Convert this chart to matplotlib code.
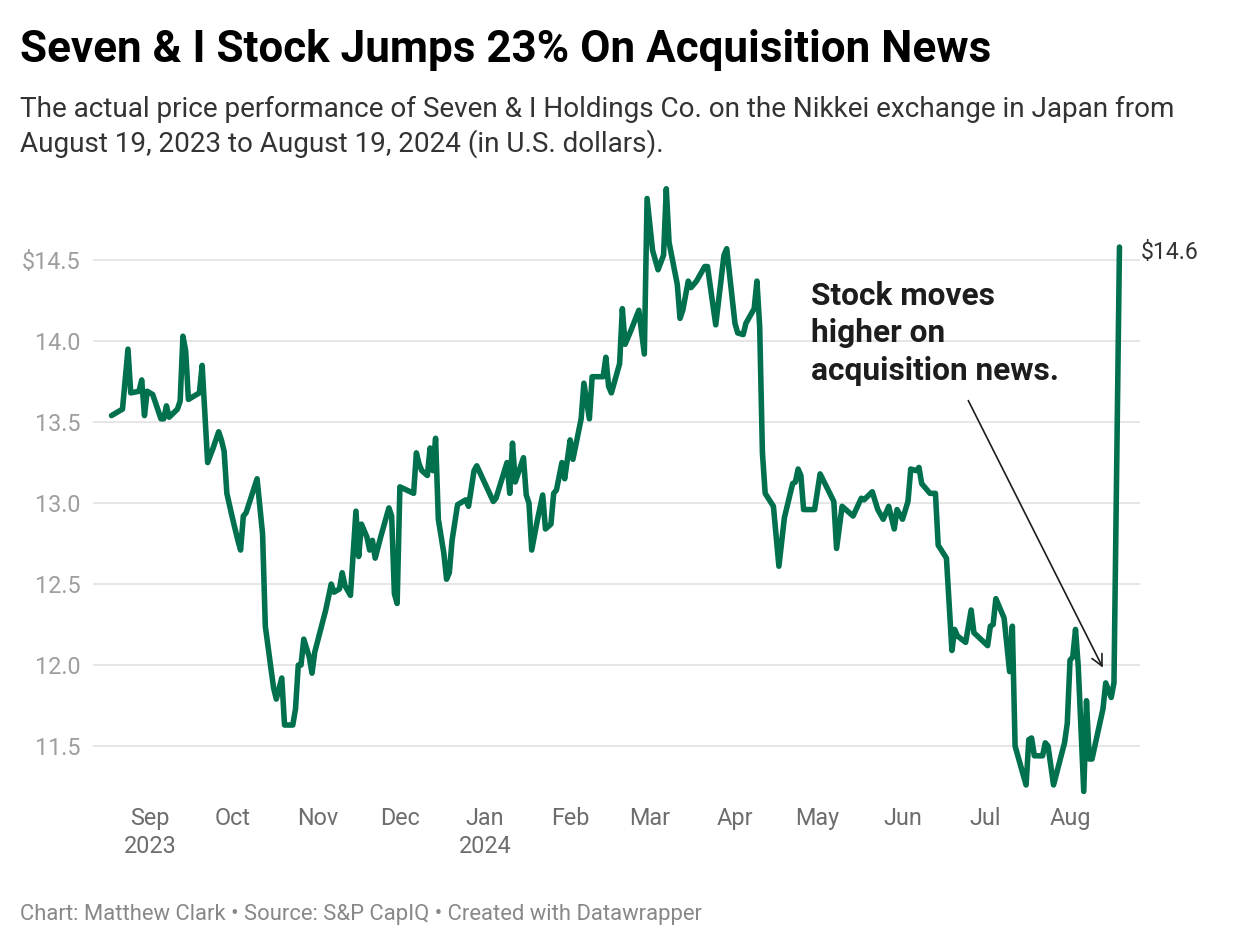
import datetime as dt
import matplotlib
matplotlib.use("Agg")
import matplotlib.pyplot as plt
import matplotlib.dates as mdates

# data: trading days counted from Aug 18, 2023, price in USD
start = dt.date(2023, 8, 18)
days = [0, 4, 6, 7, 10, 11, 12, 13, 15, 18, 19, 20, 21, 24, 25, 26, 27, 28, 32, 33,
        35, 37, 39, 40, 41, 42, 44, 46, 47, 48, 49, 53, 55, 56, 59, 60, 62, 63, 66, 67,
        68, 69, 70, 72, 73, 74, 76, 78, 80, 81, 83, 84, 85, 87, 89, 90, 91, 93, 94, 95,
        96, 98, 101, 102, 103, 104, 105, 110, 111, 112, 113, 115, 116, 117, 118, 119, 121, 122, 123, 124,
        126, 129, 130, 132, 133, 139, 140, 144, 145, 146, 147, 150, 151, 152, 153, 155, 157, 158, 160, 161,
        162, 164, 165, 167, 168, 171, 172, 174, 175, 179, 180, 181, 182, 185, 186, 187, 189, 192, 194, 195,
        197, 199, 201, 202, 203, 206, 207, 208, 210, 211, 213, 216, 217, 220, 223, 224, 227, 228, 230, 231,
        234, 235, 236, 237, 238, 241, 243, 245, 248, 249, 250, 251, 252, 256, 258, 263, 264, 266, 270, 273,
        274, 277, 279, 281, 283, 285, 286, 288, 290, 291, 293, 294, 295, 298, 300, 301, 304, 306, 307, 308,
        311, 313, 314, 319, 320, 321, 322, 325, 327, 328, 329, 333, 334, 335, 336, 339, 340, 341, 343, 347,
        348, 349, 350, 351, 352, 354, 355, 356, 357, 361, 362, 364, 365, 367]
prices = [13.54, 13.58, 13.95, 13.68, 13.69, 13.76, 13.54, 13.69, 13.67, 13.52, 13.52, 13.60, 13.53, 13.58, 13.63, 14.03, 13.94, 13.64, 13.68, 13.85,
          13.25, 13.34, 13.44, 13.39, 13.32, 13.06, 12.91, 12.77, 12.71, 12.92, 12.94, 13.15, 12.81, 12.24, 11.86, 11.79, 11.92, 11.63, 11.63, 11.73,
          12.00, 12.00, 12.16, 12.05, 11.95, 12.08, 12.21, 12.34, 12.50, 12.45, 12.47, 12.57, 12.49, 12.43, 12.95, 12.67, 12.87, 12.79, 12.71, 12.77,
          12.66, 12.79, 12.97, 12.92, 12.44, 12.38, 13.10, 13.06, 13.31, 13.24, 13.20, 13.17, 13.34, 13.20, 13.40, 12.90, 12.69, 12.53, 12.57, 12.77,
          12.99, 13.02, 12.98, 13.20, 13.23, 13.01, 13.03, 13.25, 13.06, 13.37, 13.13, 13.28, 13.05, 13.00, 12.71, 12.89, 13.05, 12.84, 12.87, 13.06,
          13.08, 13.25, 13.15, 13.39, 13.27, 13.52, 13.74, 13.52, 13.78, 13.78, 13.90, 13.72, 13.68, 13.86, 14.20, 13.98, 14.06, 14.19, 13.92, 14.88,
          14.56, 14.44, 14.53, 14.94, 14.61, 14.35, 14.14, 14.19, 14.37, 14.33, 14.37, 14.46, 14.46, 14.10, 14.53, 14.57, 14.11, 14.05, 14.04, 14.11,
          14.20, 14.37, 14.09, 13.31, 13.06, 12.98, 12.61, 12.91, 13.12, 13.13, 13.21, 13.17, 12.96, 12.96, 13.18, 13.01, 12.72, 12.98, 12.92, 13.03,
          13.02, 13.07, 12.96, 12.90, 12.98, 12.84, 12.96, 12.90, 13.01, 13.21, 13.20, 13.22, 13.12, 13.06, 13.06, 12.74, 12.66, 12.09, 12.22, 12.18,
          12.14, 12.34, 12.20, 12.12, 12.24, 12.25, 12.41, 12.29, 11.96, 12.24, 11.50, 11.26, 11.54, 11.55, 11.44, 11.44, 11.52, 11.50, 11.26, 11.52,
          11.64, 12.03, 12.05, 12.22, 11.99, 11.22, 11.78, 11.42, 11.42, 11.73, 11.89, 11.80, 11.89, 14.58]

y_ticks = [11.5, 12.0, 12.5, 13.0, 13.5, 14.0, 14.5]
y_labels = ["11.5", "12.0", "12.5", "13.0", "13.5", "14.0", "$14.5"]
month_starts = ["2023-09-01", "2023-10-01", "2023-11-01", "2023-12-01", "2024-01-01", "2024-02-01",
                "2024-03-01", "2024-04-01", "2024-05-01", "2024-06-01", "2024-07-01", "2024-08-01"]
month_labels = ["Sep\n2023", "Oct", "Nov", "Dec", "Jan\n2024", "Feb",
                "Mar", "Apr", "May", "Jun", "Jul", "Aug"]

plt.rcParams["font.family"] = ["Roboto", "DejaVu Sans"]

dates = [start + dt.timedelta(days=d) for d in days]
x0 = mdates.date2num(start)

fig = plt.figure(figsize=(12.4, 9.46), dpi=100)
ax = fig.add_axes([0.075, 0.1543, 0.8444, 0.6554])

ax.plot(dates, prices, color="#00704f", lw=4.0, solid_joinstyle="round", solid_capstyle="round", zorder=3)

ax.set_xlim(x0 - 6.74, x0 + 374.5)
ax.set_ylim(11.167, 14.994)

ax.set_yticks(y_ticks)
ax.set_yticklabels(y_labels)
ax.set_xticks([mdates.datestr2num(m) for m in month_starts])
ax.set_xticklabels(month_labels)
for lab in ax.get_xticklabels():
    lab.set_linespacing(1.3)

ax.tick_params(axis="y", length=0, pad=9, labelsize=16.8, labelcolor="#9e9e9e")
ax.tick_params(axis="x", length=0, pad=5, labelsize=16.8, labelcolor="#6d6d6d")
ax.grid(axis="y", color="#e2e2e2", lw=1.2)
ax.grid(axis="x", visible=False)
for s in ax.spines.values():
    s.set_visible(False)

# end label
ax.annotate("$14.6", xy=(dates[-1], prices[-1]), xytext=(15, -4), textcoords="offset points",
            ha="left", va="center", fontsize=16.6, color="#333333")

# annotation
ax.text(x0 + 254.7, 14.37, "Stock moves\nhigher on\nacquisition news.", ha="left", va="top",
        fontsize=22.8, fontweight="bold", color="#1d1d1d", linespacing=1.3)
ax.annotate("", xy=(x0 + 361.4, 11.969), xytext=(x0 + 311.5, 13.648),
            arrowprops=dict(arrowstyle="->", color="#1d1d1d", lw=1.2, mutation_scale=20))

fig.text(20 / 1240, 1 - 62 / 946, "Seven & I Stock Jumps 23% On Acquisition News",
         fontsize=31.7, fontweight="bold", color="#000000", va="baseline")
fig.text(20 / 1240, 1 - 117 / 946,
         "The actual price performance of Seven & I Holdings Co. on the Nikkei exchange in Japan from",
         fontsize=20.1, color="#333333", va="baseline")
fig.text(20 / 1240, 1 - 152 / 946, "August 19, 2023 to August 19, 2024 (in U.S. dollars).",
         fontsize=20.1, color="#333333", va="baseline")
fig.text(20 / 1240, 1 - 920 / 946,
         "Chart: Matthew Clark \u2022 Source: S&P CapIQ \u2022 Created with Datawrapper",
         fontsize=15.8, color="#888888", va="baseline")

fig.savefig("out.png", dpi=100)
